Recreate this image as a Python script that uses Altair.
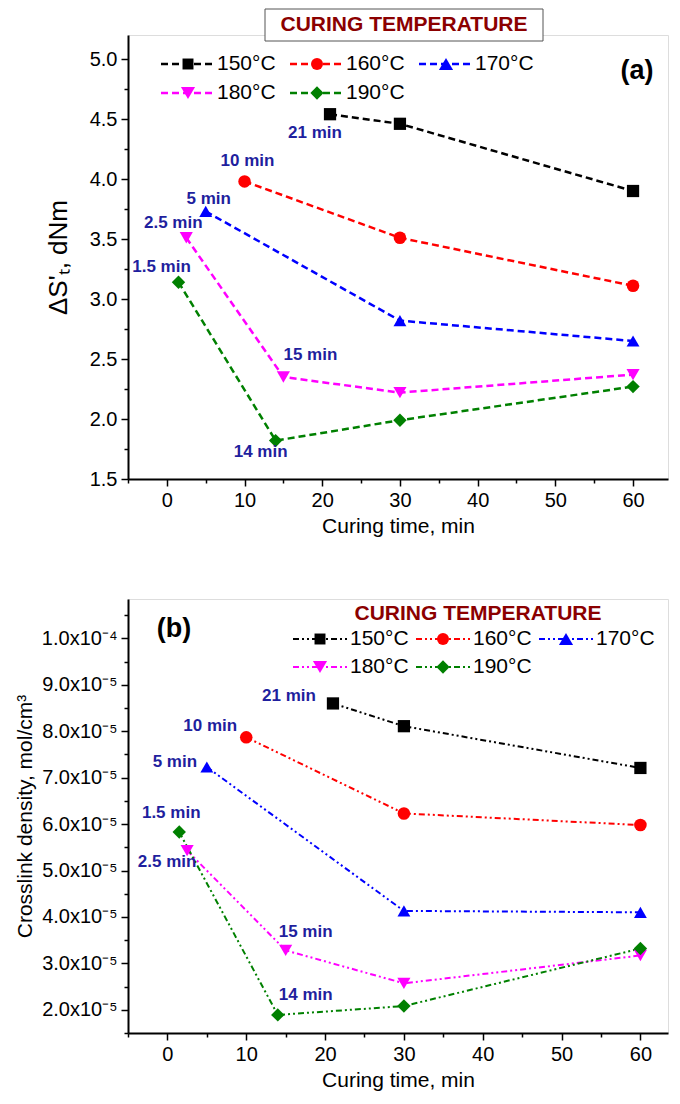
import altair as alt
import pandas as pd

FONT = "Liberation Sans"

# ---------------- data ----------------
temps = ["150°C", "160°C", "170°C", "180°C", "190°C"]
colors = ["#000000", "#FF0000", "#0000FF", "#FF00FF", "#008000"]
shapes = ["square", "circle", "triangle-up", "triangle-down", "diamond"]

t_150 = [21, 30, 60]
t_160 = [10, 30, 60]
t_170 = [5, 30, 60]
t_180 = [2.5, 15, 30, 60]
t_190 = [1.5, 14, 30, 60]

# panel (a): delta S't, dNm
a_150 = [4.54, 4.46, 3.90]
a_160 = [3.98, 3.51, 3.11]
a_170 = [3.73, 2.82, 2.65]
a_180 = [3.51, 2.35, 2.22, 2.37]
a_190 = [3.14, 1.82, 1.99, 2.27]

# panel (b): crosslink density, mol/cm3
b_150 = [8.60e-5, 8.11e-5, 7.21e-5]
b_160 = [7.87e-5, 6.23e-5, 5.98e-5]
b_170 = [7.23e-5, 4.13e-5, 4.10e-5]
b_180 = [5.43e-5, 3.28e-5, 2.57e-5, 3.17e-5]
b_190 = [5.83e-5, 1.89e-5, 2.08e-5, 3.32e-5]

ann_temp = ["150°C", "160°C", "170°C", "180°C", "190°C", "180°C", "190°C"]
ann_time = [21, 10, 5, 2.5, 1.5, 15, 14]
ann_text = ["21 min", "10 min", "5 min", "2.5 min", "1.5 min", "15 min", "14 min"]

x_ticks = [0, 10, 20, 30, 40, 50, 60]
x_minor = [-5, 5, 15, 25, 35, 45, 55]
a_ticks = [1.5, 2.0, 2.5, 3.0, 3.5, 4.0, 4.5, 5.0]
a_minor = [1.75, 2.25, 2.75, 3.25, 3.75, 4.25, 4.75]
b_ticks = [2e-5, 3e-5, 4e-5, 5e-5, 6e-5, 7e-5, 8e-5, 9e-5, 1e-4]
b_minor = [1.5e-5, 2.5e-5, 3.5e-5, 4.5e-5, 5.5e-5, 6.5e-5, 7.5e-5, 8.5e-5, 9.5e-5, 1.05e-4]

time_lists = [t_150, t_160, t_170, t_180, t_190]


def series_df(vals):
    rows = []
    for temp, ts, vs in zip(temps, time_lists, vals):
        for t, v in zip(ts, vs):
            rows.append({"temp": temp, "t": t, "v": v})
    return pd.DataFrame(rows)


df_a = series_df([a_150, a_160, a_170, a_180, a_190])
df_b = series_df([b_150, b_160, b_170, b_180, b_190])
ann_df = pd.DataFrame({"temp": ann_temp, "t": ann_time, "label": ann_text})
ann_a = df_a.merge(ann_df, on=["temp", "t"])
ann_b = df_b.merge(ann_df, on=["temp", "t"])
dummy = pd.DataFrame({"k": [0]})

# ---------------- styles ----------------
ANN_COLOR = "#1F1F9E"
TITLE_RED = "#8B0000"
marker_sizes = [150, 180, 250, 250, 220]
off_a = {"21 min": (-15, 19), "10 min": (3, -20), "5 min": (3, -12), "2.5 min": (-13, -15),
         "1.5 min": (-17, -15), "15 min": (27, -22), "14 min": (-15, 11)}
off_b = {"21 min": (-44, -7), "10 min": (-36, -11), "5 min": (-32, -5), "1.5 min": (-8, -19),
         "2.5 min": (-20, 11), "15 min": (20, -18), "14 min": (28, -20)}


def legend_layers(dash, lw, x0, row_y, step, line_len, text_dx, fsize):
    grid = [(0, 0), (1, 0), (2, 0), (0, 1), (1, 1)]
    out = []
    for (col, row), temp, c, s, sz in zip(grid, temps, colors, shapes, marker_sizes):
        x = x0 + col * step
        y = row_y[row]
        out.append(alt.Chart(dummy).mark_rule(color=c, strokeWidth=lw, strokeDash=dash).encode(
            x=alt.value(x), x2=alt.value(x + line_len), y=alt.value(y)))
        out.append(alt.Chart(dummy).mark_point(shape=s, filled=True, color=c, opacity=1,
                                               size=sz * 0.8).encode(
            x=alt.value(x + line_len / 2), y=alt.value(y)))
        out.append(alt.Chart(dummy).mark_text(align="left", baseline="middle", font=FONT,
                                              fontSize=fsize, color="black").encode(
            x=alt.value(x + text_dx), y=alt.value(y), text=alt.value(temp)))
    return out


def panel(df, ann, offs, xdom, ydom, yticks, yminor, yaxis_kw, dash, lwidth):
    xs = alt.Scale(domain=xdom, nice=False, zero=False)
    ys = alt.Scale(domain=ydom, nice=False, zero=False)
    cs = alt.Scale(domain=temps, range=colors)
    common_ax = dict(labelFont=FONT, labelFontSize=20, labelColor="black", tickColor="black",
                     domainColor="black", domainWidth=2, tickWidth=1.5, tickSize=7, grid=False,
                     titleFont=FONT, titleColor="black", titleFontWeight="normal", labelFlush=False)
    xax = alt.Axis(values=x_ticks, title="Curing time, min", titleFontSize=21, labelPadding=4,
                   titlePadding=5, **common_ax)
    yax = alt.Axis(values=yticks, labelPadding=4, **common_ax, **yaxis_kw)
    xmin_ax = alt.Axis(values=x_minor, labels=False, tickSize=4, tickWidth=1.5, tickColor="black",
                       domain=False, grid=False, title=None, orient="bottom")
    ymin_ax = alt.Axis(values=yminor, labels=False, tickSize=4, tickWidth=1.5, tickColor="black",
                       domain=False, grid=False, title=None, orient="left")

    base = alt.Chart(df)
    lines = base.mark_line(strokeDash=dash, strokeWidth=lwidth).encode(
        x=alt.X("t:Q", scale=xs, axis=xax),
        y=alt.Y("v:Q", scale=ys, axis=yax),
        color=alt.Color("temp:N", scale=cs, legend=None),
        order="t:Q",
    )
    minor = base.mark_point(opacity=0).encode(
        x=alt.X("t:Q", scale=xs, axis=xmin_ax),
        y=alt.Y("v:Q", scale=ys, axis=ymin_ax),
    )
    pts = base.mark_point(filled=True, opacity=1).encode(
        x=alt.X("t:Q", scale=xs, axis=None),
        y=alt.Y("v:Q", scale=ys, axis=None),
        color=alt.Color("temp:N", scale=cs, legend=None),
        shape=alt.Shape("temp:N", scale=alt.Scale(domain=temps, range=shapes), legend=None),
        size=alt.Size("temp:N", scale=alt.Scale(domain=temps, range=marker_sizes), legend=None),
    )
    texts = []
    for lab, (dx, dy) in offs.items():
        texts.append(
            alt.Chart(ann).transform_filter(alt.datum.label == lab).mark_text(
                dx=dx, dy=dy, font=FONT, fontSize=17, fontWeight="bold", color=ANN_COLOR).encode(
                x=alt.X("t:Q", scale=xs, axis=None),
                y=alt.Y("v:Q", scale=ys, axis=None),
                text="label:N",
            )
        )
    layer = alt.layer(lines, minor, pts, *texts).resolve_axis(x="independent", y="independent")
    return layer


W_A, H_A = 540, 444
W_B, H_B = 540, 434

layer_a = panel(
    df_a, ann_a, off_a, [-5, 64.5], [1.5, 5.2], a_ticks, a_minor,
    dict(format=".1f", title="ΔS'ₜ, dNm", titleFontSize=26, titlePadding=18),
    [7, 4], 2.5)

layer_b = panel(
    df_b, ann_b, off_b, [-5, 63.5], [1.5e-5, 1.085e-4], b_ticks, b_minor,
    dict(labelExpr="datum.value >= 9.95e-5 ? format(datum.value*1e4, '.1f') + 'x10⁻⁴' : "
                   "format(datum.value*1e5, '.1f') + 'x10⁻⁵'",
         title="Crosslink density, mol/cm³", titleFontSize=21, titlePadding=6),
    [6, 3, 2, 3, 2, 3], 2)

# decorations for panel (a)
box = alt.Chart(dummy).mark_rect(fill="white", stroke="#555555", strokeWidth=1).encode(
    x=alt.value(137), x2=alt.value(415), y=alt.value(-26), y2=alt.value(6))
box_text = alt.Chart(dummy).mark_text(font=FONT, fontSize=21, fontWeight="bold",
                                      color=TITLE_RED).encode(
    x=alt.value(276), y=alt.value(-10), text=alt.value("CURING TEMPERATURE"))
tag_a = alt.Chart(dummy).mark_text(font=FONT, fontSize=27, fontWeight="bold", color="black").encode(
    x=alt.value(509), y=alt.value(36), text=alt.value("(a)"))
leg_a = legend_layers([7, 4], 2.5, 33, [29, 58], 129, 54, 56, 21)

# decorations for panel (b)
tag_b = alt.Chart(dummy).mark_text(font=FONT, fontSize=27, fontWeight="bold", color="black").encode(
    x=alt.value(46), y=alt.value(30), text=alt.value("(b)"))
leg_b_title = alt.Chart(dummy).mark_text(font=FONT, fontSize=21, fontWeight="bold",
                                         color=TITLE_RED).encode(
    x=alt.value(350), y=alt.value(15), text=alt.value("CURING TEMPERATURE"))
leg_b = legend_layers([6, 3, 2, 3, 2, 3], 2, 165, [40, 68], 123, 54, 57, 21)

panel_a = alt.layer(layer_a, box, box_text, tag_a, *leg_a).properties(width=W_A, height=H_A)
panel_b = alt.layer(layer_b, tag_b, leg_b_title, *leg_b).properties(width=W_B, height=H_B)

chart = alt.vconcat(panel_a, panel_b, spacing=61).resolve_scale(
    color="independent", shape="independent", size="independent"
).properties(padding={"left": 5, "top": 0, "right": 0, "bottom": 0}).configure_view(
    stroke="black", strokeWidth=1.5
).configure(background="white")

chart.save("out.html", embed_options={"renderer": "svg", "actions": False})
